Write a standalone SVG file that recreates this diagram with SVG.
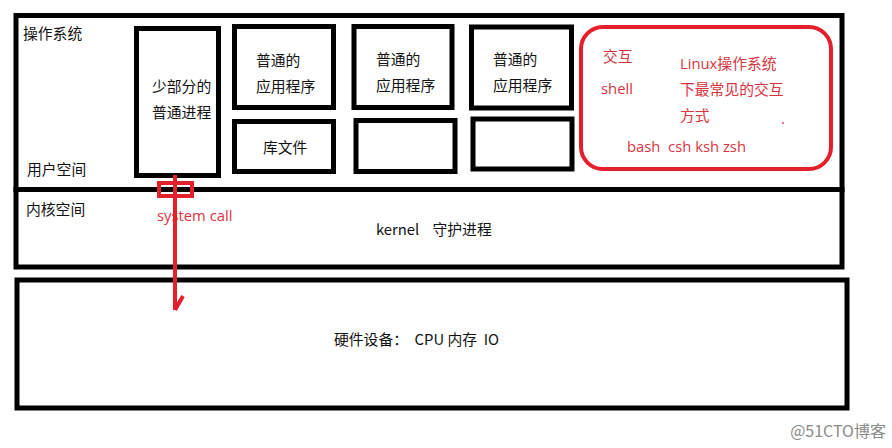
<svg xmlns="http://www.w3.org/2000/svg" width="892" height="448" viewBox="0 0 892 448">
<style>
.box{fill:none;stroke:#000;stroke-width:5}
.rbox{fill:none;stroke:#e3202b;stroke-width:4}
.t{font-family:"Noto Sans CJK SC","Open Sans",sans-serif;font-size:14.8px;fill:#111}
.r{font-family:"Open Sans","Noto Sans CJK SC",sans-serif;font-size:14.8px;fill:#d8343e}
.w{font-family:"Noto Sans CJK SC",sans-serif;font-size:16px;fill:#8a8a8a}
</style>
<rect width="892" height="448" fill="#fff"/>
<g id="user-space">
<rect class="box" x="16" y="15.5" width="826" height="174"/>
<text class="t" x="23" y="39">操作系统</text>
<text class="t" x="27" y="175">用户空间</text>
</g>
<g id="kernel-space">
<rect class="box" x="16" y="189.5" width="826" height="77.5"/>
<text class="t" x="26" y="215">内核空间</text>
<text class="t" x="376" y="235" xml:space="preserve">kernel    守护进程</text>
</g>
<g id="hardware">
<rect class="box" x="17" y="280" width="830" height="128"/>
<text class="t" x="334" y="345" xml:space="preserve">硬件设备：  CPU 内存  IO</text>
</g>
<g id="process">
<rect class="box" x="136.5" y="28.5" width="82" height="147"/>
<text class="t" x="152" y="92">少部分的</text>
<text class="t" x="152" y="118">普通进程</text>
</g>
<g id="app1">
<rect class="box" x="234.5" y="26.5" width="99" height="81"/>
<text class="t" x="256" y="66">普通的</text>
<text class="t" x="256" y="92">应用程序</text>
</g>
<g id="lib">
<rect class="box" x="234.5" y="121.5" width="99" height="50"/>
<text class="t" x="263" y="153">库文件</text>
</g>
<g id="app2">
<rect class="box" x="354" y="26.5" width="98" height="81"/>
<text class="t" x="376" y="65">普通的</text>
<text class="t" x="376" y="91">应用程序</text>
</g>
<g id="box2">
<rect class="box" x="356" y="120.5" width="99" height="51"/>
</g>
<g id="app3">
<rect class="box" x="471.5" y="27" width="100" height="81"/>
<text class="t" x="493" y="65">普通的</text>
<text class="t" x="493" y="91">应用程序</text>
</g>
<g id="box3">
<rect class="box" x="473" y="119" width="99" height="50"/>
</g>
<g id="shell">
<rect class="rbox" x="581" y="27" width="250" height="142" rx="22"/>
<text class="r" x="603" y="62">交互</text>
<text class="r" x="601" y="94">shell</text>
<text class="r" x="680" y="69">Linux操作系统</text>
<text class="r" x="680" y="95">下最常见的交互</text>
<text class="r" x="680" y="121">方式</text>
<text class="r" x="781" y="124" font-size="10">.</text>
<text class="r" x="627" y="152" xml:space="preserve">bash  csh ksh zsh</text>
</g>
<g id="connectors">
<text class="r" x="157" y="221">system call</text>
<rect class="rbox" x="159" y="183" width="33" height="13"/>
<path d="M175 175 V310 M183 296 L175 310" fill="none" stroke="#e3202b" stroke-width="4"/>
</g>
<text class="w" x="886" y="437" text-anchor="end">@51CTO博客</text>
</svg>
